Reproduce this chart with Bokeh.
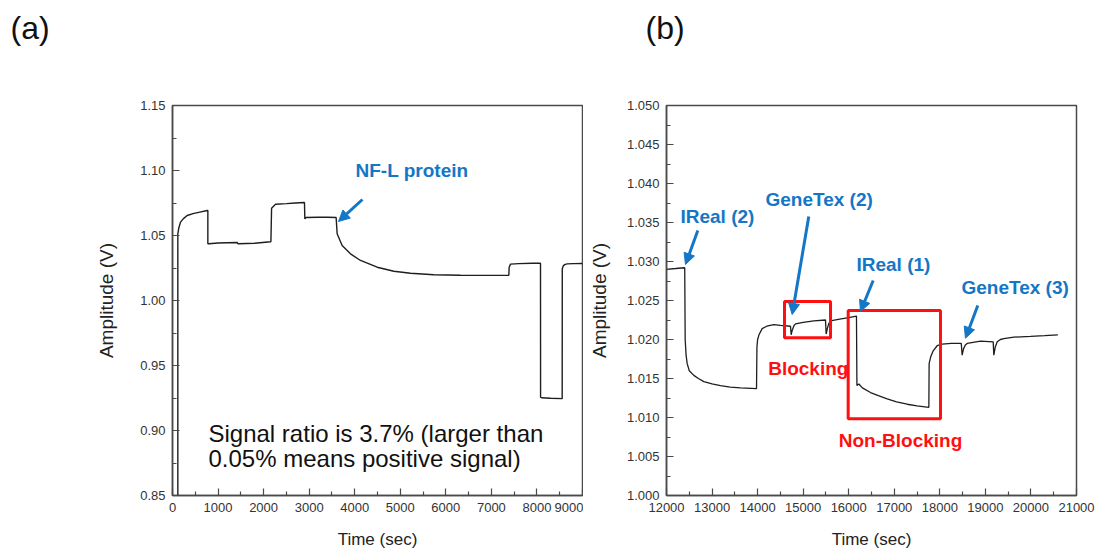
from bokeh.plotting import figure
from bokeh.models import Range1d, FixedTicker, NumeralTickFormatter, Label, Arrow, NormalHead
from bokeh.layouts import row, column
from bokeh.core.properties import value
from bokeh.embed import file_html
from bokeh.resources import INLINE

# ---------------- data: panel (a) ----------------
a_time = [117, 117, 140, 176, 240, 322, 450, 600, 761, 776, 776, 800, 1000, 1200, 1420, 1440,
          1800, 2151, 2160, 2175, 2261, 2500, 2700, 2883, 2897, 2905, 2930, 3200, 3400, 3592,
          3614, 3724, 3907, 4127, 4493, 4859, 5225, 5737, 6322, 7054, 7383, 7390, 7420,
          7600, 7900, 8078, 8080, 8100, 8300, 8554, 8556, 8580, 8620, 8664, 8800, 9000]
a_amp = [0.850, 1.0513, 1.0560, 1.0603, 1.0630, 1.0654, 1.0668, 1.0680, 1.0692, 1.0692, 1.0436,
         1.0436, 1.0442, 1.0444, 1.0446, 1.0436, 1.0440, 1.0452, 1.0452, 1.0710, 1.0740, 1.0745,
         1.0750, 1.0754, 1.0754, 1.0628, 1.0638, 1.0640, 1.0640, 1.0638, 1.0513, 1.0423, 1.0359,
         1.0308, 1.0256, 1.0225, 1.0210, 1.0198, 1.0194, 1.0193, 1.0194, 1.0256, 1.0280, 1.0284,
         1.0286, 1.0287, 0.9256, 0.9252, 0.9248, 0.9245, 1.0244, 1.0268, 1.0278, 1.0282, 1.0284,
         1.0285]
a_xticks = [0, 1000, 2000, 3000, 4000, 5000, 6000, 7000, 8000, 9000]
a_xminor = [500, 1500, 2500, 3500, 4500, 5500, 6500, 7500, 8500]
a_yticks = [0.85, 0.90, 0.95, 1.00, 1.05, 1.10, 1.15]
a_yminor = [0.875, 0.925, 0.975, 1.025, 1.075, 1.125]

# ---------------- data: panel (b) ----------------
b_time = [12000, 12200, 12395, 12400, 12410, 12430, 12454, 12500, 12600, 12700, 12820, 13000,
          13185, 13400, 13624, 13976, 13985, 14000, 14030, 14100, 14200, 14356, 14500, 14722,
          14737, 14760, 14800, 14832, 15000, 15234, 15490, 15505, 15530, 15560, 15600, 15800,
          16000, 16170, 16180, 16222, 16300, 16478, 16650, 16844, 17050, 17283, 17500, 17759,
          17765, 17800, 17850, 17941, 18051, 18250, 18470, 18490, 18520, 18560, 18600, 18893,
          19171, 19185, 19215, 19260, 19330, 19405, 19624, 19990, 20300, 20590]
b_amp = [1.0290, 1.0291, 1.0292, 1.0292, 1.0200, 1.0180, 1.0169, 1.0160, 1.0154, 1.0150, 1.0146,
         1.0143, 1.0141, 1.0139, 1.0138, 1.0137, 1.0190, 1.0200, 1.0206, 1.0214, 1.0217, 1.0219,
         1.0218, 1.0217, 1.0206, 1.0212, 1.0218, 1.0220, 1.0222, 1.0224, 1.0225, 1.0207, 1.0214,
         1.0220, 1.0224, 1.0226, 1.0228, 1.0230, 1.0141, 1.0143, 1.0138, 1.0132, 1.0128, 1.0124,
         1.0120, 1.0117, 1.0115, 1.0113, 1.0169, 1.0178, 1.0185, 1.0192, 1.0194, 1.0195, 1.0195,
         1.0180, 1.0188, 1.0193, 1.0195, 1.0198, 1.0197, 1.0180, 1.0190, 1.0197, 1.0200, 1.0201,
         1.0203, 1.0204, 1.0205, 1.0206]
b_xticks = [12000, 13000, 14000, 15000, 16000, 17000, 18000, 19000, 20000, 21000]
b_xminor = [12500, 13500, 14500, 15500, 16500, 17500, 18500, 19500, 20500]
b_yticks = [1.000, 1.005, 1.010, 1.015, 1.020, 1.025, 1.030, 1.035, 1.040, 1.045, 1.050]
b_yminor = [1.0025, 1.0075, 1.0125, 1.0175, 1.0225, 1.0275, 1.0325, 1.0375, 1.0425, 1.0475]

# red boxes (panel b)
box_left = [14590, 15988]
box_right = [15600, 18014]
box_bottom = [1.02022, 1.00983]
box_top = [1.02487, 1.02372]

# panel letters
letters = ["(a)", "(b)"]

BLUE = "#1476C6"
RED = "#FF1010"
SANS = "Liberation Sans"
AX = "#4a4a4a"


def style(p, xt, xm, yt, ym, yfmt, ylab_standoff):
    p.xaxis.ticker = FixedTicker(ticks=xt, minor_ticks=xm)
    p.yaxis.ticker = FixedTicker(ticks=yt, minor_ticks=ym)
    p.xaxis.formatter = NumeralTickFormatter(format="0")
    p.yaxis.formatter = NumeralTickFormatter(format=yfmt)
    p.xgrid.visible = False
    p.ygrid.visible = False
    p.outline_line_color = AX
    p.outline_line_width = 1.5
    p.outline_line_alpha = 1.0
    for ax in (p.xaxis[0], p.yaxis[0]):
        ax.axis_line_color = AX
        ax.axis_line_width = 1.5
        ax.major_tick_in = 7
        ax.major_tick_out = 0
        ax.minor_tick_in = 4
        ax.minor_tick_out = 0
        ax.major_tick_line_color = AX
        ax.minor_tick_line_color = AX
        ax.major_tick_line_width = 1.2
        ax.minor_tick_line_width = 1.2
        ax.major_label_text_font = SANS
        ax.major_label_text_font_size = "13px"
        ax.major_label_text_color = "#333333"
        ax.major_label_standoff = 7
        ax.axis_label_text_font_style = "normal"
        ax.axis_label_text_color = "#222222"
    p.xaxis.axis_label = "Time (sec)"
    p.xaxis.axis_label_text_font = SANS
    p.xaxis.axis_label_text_font_size = "17px"
    p.xaxis.axis_label_standoff = 15
    p.yaxis.axis_label = "Amplitude (V)"
    p.yaxis.axis_label_text_font = SANS
    p.yaxis.axis_label_text_font_size = "19px"
    p.yaxis.axis_label_standoff = ylab_standoff


# ---------------- header strip with the panel letters ----------------
head = figure(width=1095, height=50, output_backend="svg", toolbar_location=None,
              x_range=Range1d(0, 1095), y_range=Range1d(50, 0),
              x_axis_type=None, y_axis_type=None,
              min_border_left=0, min_border_right=0, min_border_top=0, min_border_bottom=0)
head.outline_line_color = None
head.grid.visible = False
head.text(x=[10, 645], y=[27.5, 27.5], text=letters, text_font_size="32px",
          text_color="#111111", text_baseline="alphabetic", text_align="left",
          text_font=value(SANS))

# ---------------- panel (a) ----------------
pa = figure(width=583, height=501, output_backend="svg", toolbar_location=None,
            x_range=Range1d(0, 9000), y_range=Range1d(0.85, 1.15),
            min_border_left=172, min_border_right=1, min_border_top=55, min_border_bottom=56)
style(pa, a_xticks, a_xminor, a_yticks, a_yminor, "0.00", 20)
pa.line(a_time, a_amp, line_color="#1e1e1e", line_width=1.4)

pa.add_layout(Label(x=4017, y=1.1002, text="NF-L protein", text_font=SANS,
                    text_font_style="bold", text_font_size="19px", text_color=BLUE,
                    text_baseline="alphabetic"))
pa.add_layout(Arrow(x_start=4170, y_start=1.0777, x_end=3644, y_end=1.0608,
                    line_color=BLUE, line_width=3,
                    end=NormalHead(size=11, fill_color=BLUE, line_color=BLUE, line_width=1)))
pa.add_layout(Label(x=790, y=0.8980, text="Signal ratio is 3.7% (larger than",
                    text_font=SANS, text_font_size="24px", text_color="#111111",
                    text_baseline="alphabetic"))
pa.add_layout(Label(x=790, y=0.8785, text="0.05% means positive signal)",
                    text_font=SANS, text_font_size="24px", text_color="#111111",
                    text_baseline="alphabetic"))

# ---------------- panel (b) ----------------
pb = figure(width=512, height=501, output_backend="svg", toolbar_location=None,
            x_range=Range1d(12000, 21000), y_range=Range1d(1.000, 1.050),
            min_border_left=83, min_border_right=19, min_border_top=55, min_border_bottom=56)
style(pb, b_xticks, b_xminor, b_yticks, b_yminor, "0.000", 14)
pb.line(b_time, b_amp, line_color="#1e1e1e", line_width=1.3)
pb.quad(left=box_left, right=box_right, bottom=box_bottom, top=box_top,
        fill_color=None, line_color=RED, line_width=3)

blue_labels = [("IReal (2)", 12307, 1.03581), ("GeneTex (2)", 14173, 1.03795),
               ("IReal (1)", 16170, 1.02962), ("GeneTex (3)", 18475, 1.02667)]
for txt, lx, ly in blue_labels:
    pb.add_layout(Label(x=lx, y=ly, text=txt, text_font=SANS, text_font_style="bold",
                        text_font_size="19px", text_color=BLUE, text_baseline="alphabetic"))
red_labels = [("Blocking", 14232, 1.01625), ("Non-Blocking", 15782, 1.00709)]
for txt, lx, ly in red_labels:
    pb.add_layout(Label(x=lx, y=ly, text=txt, text_font=SANS, text_font_style="bold",
                        text_font_size="19px", text_color=RED, text_baseline="alphabetic"))

arrows = [(12687, 1.03397, 12417, 1.02962), (15123, 1.03577, 14759, 1.02321),
          (16537, 1.02756, 16258, 1.02359), (18833, 1.02436, 18563, 1.02017)]
for xs, ys, xe, ye in arrows:
    pb.add_layout(Arrow(x_start=xs, y_start=ys, x_end=xe, y_end=ye, line_color=BLUE,
                        line_width=3,
                        end=NormalHead(size=11, fill_color=BLUE, line_color=BLUE,
                                       line_width=1)))

layout = column(head, row(pa, pb))
open("out.html", "w").write(file_html(layout, INLINE))
